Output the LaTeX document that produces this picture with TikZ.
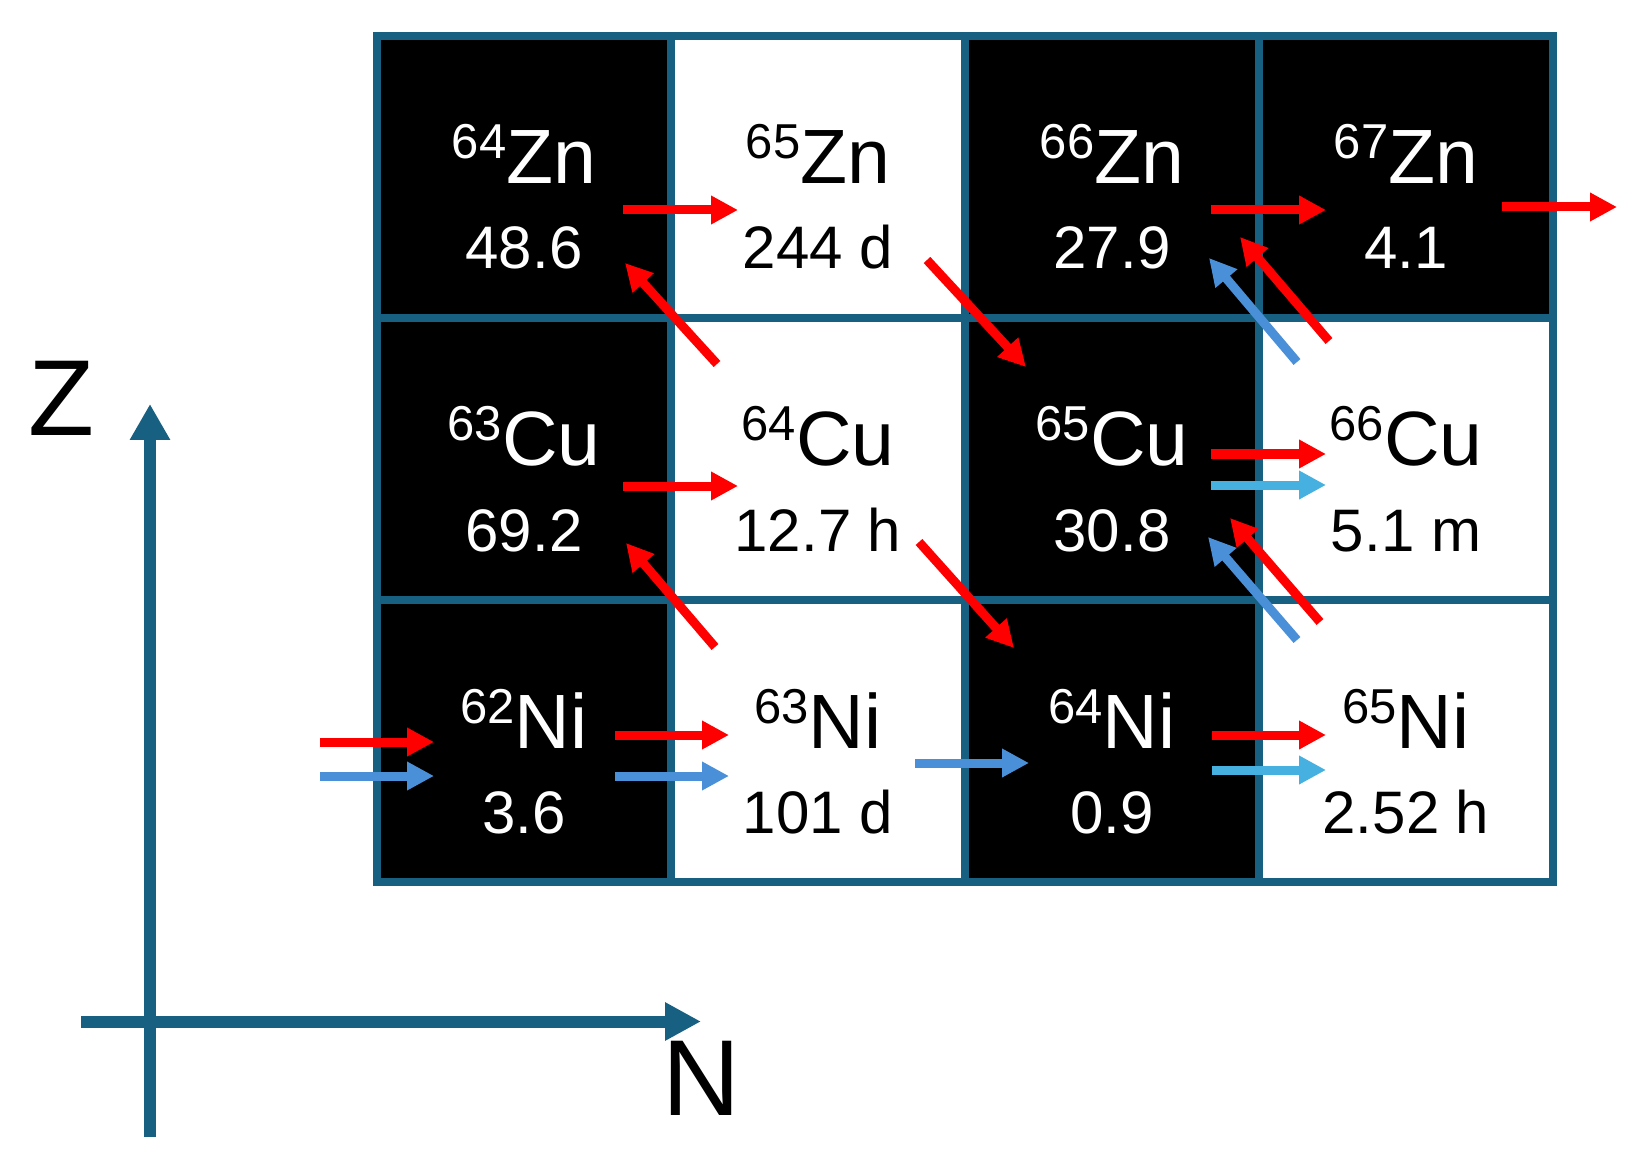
\documentclass[tikz,border=0pt]{standalone}
\usepackage{fontspec}
\setmainfont{Liberation Sans}
\usetikzlibrary{arrows.meta}
\definecolor{gridcol}{RGB}{24,96,130}
\definecolor{arrred}{RGB}{255,0,0}
\definecolor{arrblue}{RGB}{74,144,217}
\definecolor{arrcyan}{RGB}{70,177,225}
\newcommand{\sups}[1]{\raisebox{12.5pt}{\fontsize{24.5pt}{24.5pt}\selectfont #1}}
\begin{document}
\begin{tikzpicture}[x=0.5pt,y=-0.5pt,
  cell/.style={draw=gridcol, line width=4pt, minimum width=147pt, minimum height=141pt, inner sep=0pt},
  dark/.style={cell, fill=black},
  light/.style={cell, fill=white},
  sym/.style={anchor=base, inner sep=0pt, font=\fontsize{38.5pt}{40pt}\selectfont},
  num/.style={anchor=base, inner sep=0pt, font=\fontsize{30pt}{32pt}\selectfont},
  flow/.style={line width=4.5pt, -{Triangle[length=13.5pt,width=13.5pt]}},
  fred/.style={flow, draw=arrred},
  fblue/.style={flow, draw=arrblue},
  fcyan/.style={flow, draw=arrcyan},
  axisline/.style={draw=gridcol, line width=6pt},
  axislabel/.style={font=\fontsize{54pt}{56pt}\selectfont, inner sep=0pt}
]
\useasboundingbox (0,0) rectangle (1638,1160);

% cells
\node[dark]  (zn64) at (524,177) {};
\node[light] (zn65) at (818,177) {};
\node[dark]  (zn66) at (1112,177) {};
\node[dark]  (zn67) at (1406,177) {};
\node[dark]  (cu63) at (524,459) {};
\node[light] (cu64) at (818,459) {};
\node[dark]  (cu65) at (1112,459) {};
\node[light] (cu66) at (1406,459) {};
\node[dark]  (ni62) at (524,741) {};
\node[light] (ni63) at (818,741) {};
\node[dark]  (ni64) at (1112,741) {};
\node[light] (ni65) at (1406,741) {};

% labels
\node[sym,text=white] (zn64s) at (524,184) {\sups{64}Zn};
\node[num,text=white] (zn64n) at (524,269) {48.6};
\node[sym,text=black] (zn65s) at (818,184) {\sups{65}Zn};
\node[num,text=black] (zn65n) at (818,269) {244 d};
\node[sym,text=white] (zn66s) at (1112,184) {\sups{66}Zn};
\node[num,text=white] (zn66n) at (1112,269) {27.9};
\node[sym,text=white] (zn67s) at (1406,184) {\sups{67}Zn};
\node[num,text=white] (zn67n) at (1406,269) {4.1};

\node[sym,text=white] (cu63s) at (524,466) {\sups{63}Cu};
\node[num,text=white] (cu63n) at (524,551) {69.2};
\node[sym,text=black] (cu64s) at (818,466) {\sups{64}Cu};
\node[num,text=black] (cu64n) at (818,551) {12.7 h};
\node[sym,text=white] (cu65s) at (1112,466) {\sups{65}Cu};
\node[num,text=white] (cu65n) at (1112,551) {30.8};
\node[sym,text=black] (cu66s) at (1406,466) {\sups{66}Cu};
\node[num,text=black] (cu66n) at (1406,551) {5.1 m};

\node[sym,text=white] (ni62s) at (524,748) {\sups{62}Ni};
\node[num,text=white] (ni62n) at (524,833) {3.6};
\node[sym,text=black] (ni63s) at (818,748) {\sups{63}Ni};
\node[num,text=black] (ni63n) at (818,833) {101 d};
\node[sym,text=white] (ni64s) at (1112,748) {\sups{64}Ni};
\node[num,text=white] (ni64n) at (1112,833) {0.9};
\node[sym,text=black] (ni65s) at (1406,748) {\sups{65}Ni};
\node[num,text=black] (ni65n) at (1406,833) {2.52 h};

% arrow end points
\coordinate (a1s) at (623,210);   \coordinate (a1e) at (738,210);
\coordinate (a2s) at (1211,210);  \coordinate (a2e) at (1326,210);
\coordinate (a3s) at (1502,207);  \coordinate (a3e) at (1617,207);
\coordinate (a4s) at (717,364);   \coordinate (a4e) at (625,263);
\coordinate (a5s) at (927,260);   \coordinate (a5e) at (1026,367);
\coordinate (a6s) at (1297,362);  \coordinate (a6e) at (1209,258);
\coordinate (a7s) at (1329,341);  \coordinate (a7e) at (1240,237);
\coordinate (a8s) at (623,486);   \coordinate (a8e) at (738,486);
\coordinate (a9s) at (1211,454);  \coordinate (a9e) at (1326,454);
\coordinate (a10s) at (1211,485); \coordinate (a10e) at (1326,485);
\coordinate (a11s) at (715,647);  \coordinate (a11e) at (626,543);
\coordinate (a12s) at (919,542);  \coordinate (a12e) at (1014,648);
\coordinate (a13s) at (1297,640); \coordinate (a13e) at (1208,537);
\coordinate (a14s) at (1320,622); \coordinate (a14e) at (1230,518);
\coordinate (a15s) at (320,742);  \coordinate (a15e) at (434,742);
\coordinate (a16s) at (320,776);  \coordinate (a16e) at (434,776);
\coordinate (a17s) at (615,735);  \coordinate (a17e) at (729,735);
\coordinate (a18s) at (615,776);  \coordinate (a18e) at (729,776);
\coordinate (a19s) at (915,763);  \coordinate (a19e) at (1029,763);
\coordinate (a20s) at (1212,735); \coordinate (a20e) at (1326,735);
\coordinate (a21s) at (1212,770); \coordinate (a21e) at (1326,770);

\draw[fred]  (a1s) -- (a1e);
\draw[fred]  (a2s) -- (a2e);
\draw[fred]  (a3s) -- (a3e);
\draw[fred]  (a4s) -- (a4e);
\draw[fred]  (a5s) -- (a5e);
\draw[fblue] (a6s) -- (a6e);
\draw[fred]  (a7s) -- (a7e);
\draw[fred]  (a8s) -- (a8e);
\draw[fred]  (a9s) -- (a9e);
\draw[fcyan] (a10s) -- (a10e);
\draw[fred]  (a11s) -- (a11e);
\draw[fred]  (a12s) -- (a12e);
\draw[fblue] (a13s) -- (a13e);
\draw[fred]  (a14s) -- (a14e);
\draw[fred]  (a15s) -- (a15e);
\draw[fblue] (a16s) -- (a16e);
\draw[fred]  (a17s) -- (a17e);
\draw[fblue] (a18s) -- (a18e);
\draw[fblue] (a19s) -- (a19e);
\draw[fred]  (a20s) -- (a20e);
\draw[fcyan] (a21s) -- (a21e);

% axes
\coordinate (zbot) at (150,1137);
\coordinate (ztop) at (150,404);
\coordinate (nleft) at (81,1021.5);
\coordinate (nright) at (701,1021.5);
\draw[axisline, -{Triangle[length=18pt,width=19pt]}] (zbot) -- (ztop);
\draw[axisline, -{Triangle[length=18pt,width=18pt]}] (nleft) -- (nright);
\node[axislabel] (zlab) at (61,398) {Z};
\node[axislabel] (nlab) at (701,1078) {N};
\end{tikzpicture}
\end{document}
